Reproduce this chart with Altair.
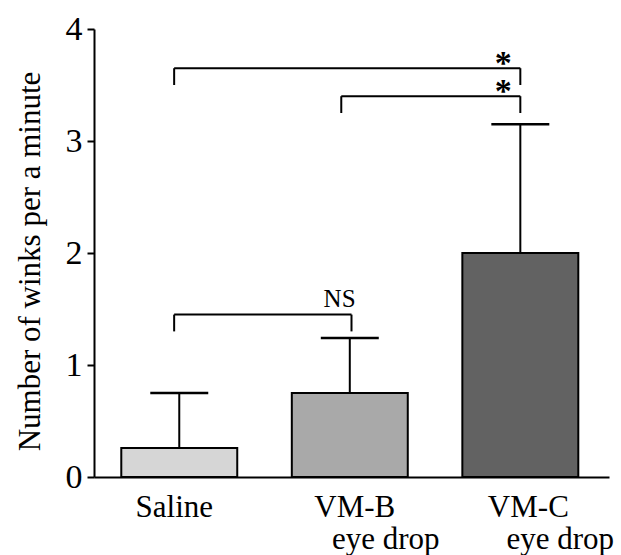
import altair as alt
import pandas as pd

# ---- data ----
categories = ["Saline", "VM-B", "VM-C"]
sublabels = ["", "eye drop", "eye drop"]
positions = [1, 2, 3]
means = [0.26, 0.75, 2.0]
errors = [0.49, 0.49, 1.15]
colors = ["#d6d6d6", "#a9a9a9", "#626262"]

# significance brackets: label, left x, right x, top y, end y
br_labels = ["NS", "*", "*"]
br_left = [0.97, 0.97, 1.95]
br_right = [2.01, 3.0, 3.0]
br_top = [1.45, 3.65, 3.40]
br_end = [1.30, 3.50, 3.25]
br_text_x = [1.94, 2.9, 2.9]
br_text_y = [1.52, 3.60, 3.35]

y_ticks = [0, 1, 2, 3, 4]

FONT = "Liberation Serif"
HALF_BAR = 0.34
HALF_CAP = 0.17
# per-category horizontal nudges of the tick-like labels (pixels)
LAB1_DX = [-5, 5, 8]
LAB2_DX = [0, 36, 40]

bars = pd.DataFrame({
    "cat": categories,
    "sub": sublabels,
    "pos": positions,
    "mean": means,
    "top": [m + e for m, e in zip(means, errors)],
    "color": colors,
})
bars["x1"] = bars["pos"] - HALF_BAR
bars["x2"] = bars["pos"] + HALF_BAR
bars["c1"] = bars["pos"] - HALF_CAP
bars["c2"] = bars["pos"] + HALF_CAP
bars["lab_y1"] = -0.36
bars["lab_y2"] = -0.64

segs = []
for lab, l, r, t, e in zip(br_labels, br_left, br_right, br_top, br_end):
    segs.append({"x": l, "x2": r, "y": t, "y2": t})
    segs.append({"x": l, "x2": l, "y": e, "y2": t})
    segs.append({"x": r, "x2": r, "y": e, "y2": t})
segs = pd.DataFrame(segs)

btext = pd.DataFrame({"t": br_labels, "x": br_text_x, "y": br_text_y})
ns_text = btext[btext["t"] == "NS"]
star_text = btext[btext["t"] != "NS"]

xs = alt.Scale(domain=[0.5, 3.52], nice=False, zero=False)
ys = alt.Scale(domain=[0, 4], nice=False)

base = alt.Chart(bars)

rect = base.mark_rect(stroke="black", strokeWidth=2).encode(
    x=alt.X("x1:Q", scale=xs, axis=alt.Axis(labels=False, ticks=False, title=None, grid=False,
                                             domainColor="black", domainWidth=2)),
    x2="x2:Q",
    y=alt.Y("mean:Q", scale=ys, axis=alt.Axis(values=y_ticks, format="d", title="Number of winks per a minute",
                                               grid=False, tickSize=7, tickWidth=2, tickColor="black",
                                               domainColor="black", domainWidth=2,
                                               labelFont=FONT, labelFontSize=34, labelColor="black",
                                               labelPadding=5,
                                               titleFont=FONT, titleFontSize=31, titleFontWeight="normal",
                                               titleColor="black", titleX=-55, titleY=232,
                                               titleBaseline="alphabetic", titleAlign="center")),
    y2=alt.datum(0),
    fill=alt.Fill("color:N", scale=None),
)

err = base.mark_rule(color="black", strokeWidth=2).encode(
    x="pos:Q", y="mean:Q", y2="top:Q")
cap = base.mark_rule(color="black", strokeWidth=2.5).encode(
    x="c1:Q", x2="c2:Q", y="top:Q")

labels = []
for i in range(len(categories)):
    row = alt.Chart(bars.iloc[[i]])
    labels.append(row.mark_text(font=FONT, fontSize=31, baseline="alphabetic", color="black",
                                dx=LAB1_DX[i]).encode(x="pos:Q", y="lab_y1:Q", text="cat:N"))
    if sublabels[i]:
        labels.append(row.mark_text(font=FONT, fontSize=31, baseline="alphabetic", color="black",
                                    dx=LAB2_DX[i]).encode(x="pos:Q", y="lab_y2:Q", text="sub:N"))

brk = alt.Chart(segs).mark_rule(color="black", strokeWidth=2).encode(
    x="x:Q", x2="x2:Q", y="y:Q", y2="y2:Q")

ns = alt.Chart(ns_text).mark_text(font=FONT, fontSize=25, baseline="alphabetic", color="black").encode(
    x="x:Q", y="y:Q", text="t:N")
stars = alt.Chart(star_text).mark_text(font=FONT, fontSize=34, fontWeight="bold",
                                       baseline="alphabetic", color="black").encode(
    x="x:Q", y="y:Q", text="t:N")

chart = alt.layer(rect, err, cap, brk, ns, stars, *labels).properties(
    width=515, height=448,
    autosize=alt.AutoSizeParams(type="none"),
    padding={"left": 94, "top": 29, "right": 12, "bottom": 78},
    background="white",
).configure_view(stroke=None)

chart.save("out.html", embed_options={"renderer": "svg", "actions": False})
